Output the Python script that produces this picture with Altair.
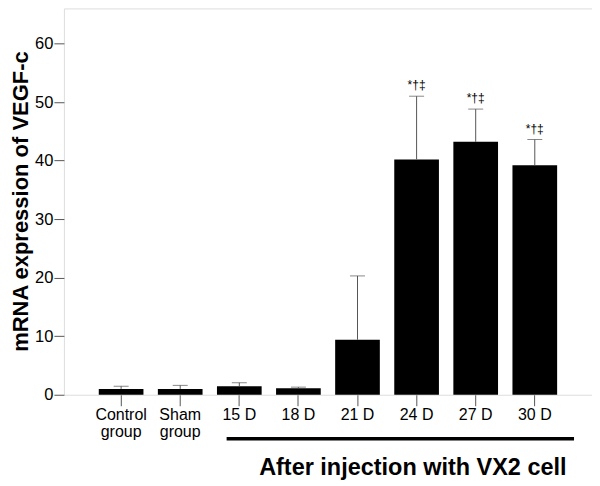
import altair as alt
import pandas as pd

groups = ["Control\ngroup", "Sham\ngroup", "15 D", "18 D", "21 D", "24 D", "27 D", "30 D"]
means = [1.0, 1.0, 1.45, 1.12, 9.4, 40.2, 43.2, 39.2]
upper = [1.45, 1.6, 2.05, 1.3, 20.3, 51.0, 48.8, 43.6]
signif = ["", "", "", "", "", "*†‡", "*†‡", "*†‡"]
y_ticks = [0, 10, 20, 30, 40, 50, 60]

df = pd.DataFrame({"group": groups, "mean": means, "upper": upper, "sig": signif})

FONT = "Liberation Sans"

xscale = alt.Scale(paddingInner=0.244, paddingOuter=0.59)
yscale = alt.Scale(domain=[0, 66], nice=False)

x_axis = alt.Axis(
    title="After injection with VX2 cell",
    titleFont=FONT, titleFontSize=23.5, titleFontWeight="bold", titleColor="black",
    titleX=349, titleY=73, titleAlign="center", titleBaseline="middle",
    labelExpr="split(datum.label, '\\n')",
    labelFont=FONT, labelFontSize=16, labelColor="black", labelLineHeight=17,
    labelAngle=0, labelPadding=1, tickSize=11, tickColor="#555", domain=False,
)
y_axis = alt.Axis(
    title="mRNA expression of VEGF-c",
    titleFont=FONT, titleFontSize=22, titleFontWeight="bold", titleColor="black",
    titleX=-43, titleY=193, titleAlign="center", titleBaseline="middle",
    values=y_ticks, grid=False,
    labelFont=FONT, labelFontSize=16.5, labelColor="black", labelPadding=1,
    tickSize=10, tickColor="#555", domain=False,
)

base = alt.Chart(df)

bars = base.mark_bar(color="black").encode(
    x=alt.X("group:N", sort=groups, scale=xscale, axis=x_axis),
    y=alt.Y("mean:Q", scale=yscale, axis=y_axis),
)

err = base.mark_rule(color="#555", strokeWidth=1).encode(
    x=alt.X("group:N", sort=groups),
    y="mean:Q",
    y2="upper:Q",
)

caps = base.mark_tick(color="#555", thickness=1, size=15, orient="horizontal").encode(
    x=alt.X("group:N", sort=groups),
    y="upper:Q",
)

stars = base.mark_text(dy=-11, fontSize=12, font=FONT, color="black", baseline="middle").encode(
    x=alt.X("group:N", sort=groups),
    y="upper:Q",
    text="sig:N",
)

line = alt.Chart(pd.DataFrame({"a": [0]})).mark_rule(color="black", strokeWidth=3.5).encode(
    x=alt.value(163), x2=alt.value(511), y=alt.value(431)
)

chart = (
    alt.layer(bars, err, caps, stars, line)
    .properties(
        width=529, height=387,
        autosize=alt.AutoSizeParams(type="none"),
        padding={"left": 56, "top": 0, "right": 0, "bottom": 85},
    )
    .configure_view(stroke="#777", strokeWidth=1)
    .configure(background="white")
)

chart.save("out.html", embed_options={"renderer": "svg", "actions": False})
